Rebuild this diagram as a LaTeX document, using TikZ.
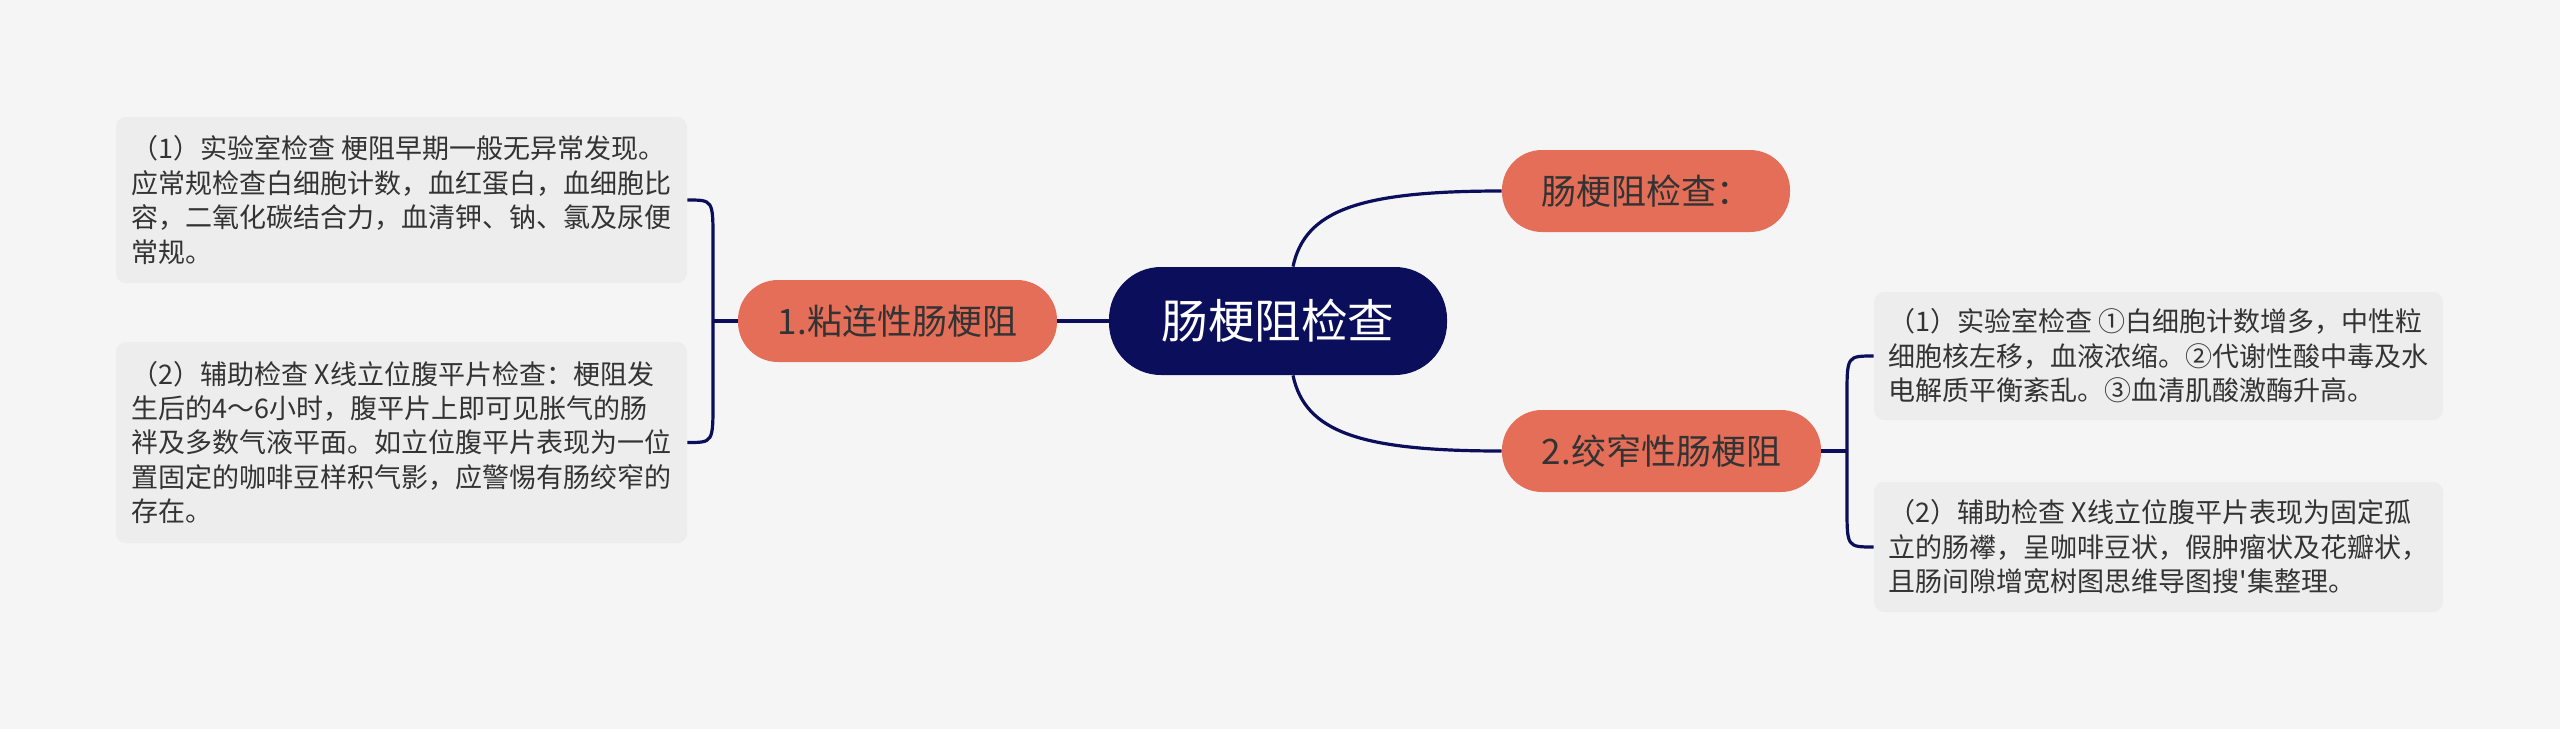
\documentclass[tikz,border=0pt]{standalone}
\usepackage{fontspec}
\setmainfont{Noto Sans CJK SC}[Ligatures=TeXOff]
\usetikzlibrary{calc}
\definecolor{bg}{HTML}{F5F5F5}
\definecolor{navy}{HTML}{0B0E5A}
\definecolor{salmon}{HTML}{E46E58}
\definecolor{boxfill}{HTML}{EDEDED}
\definecolor{txt}{HTML}{333333}
\begin{document}
\begin{tikzpicture}[x=0.5pt,y=-0.5pt,
 root/.style={fill=navy, text=white, rounded corners=26pt, minimum width=169pt, minimum height=54pt, font=\fontsize{23.3pt}{28pt}\selectfont, inner sep=0pt},
 topic/.style={fill=salmon, text=txt, rounded corners=20pt, minimum height=41pt, font=\fontsize{17.5pt}{21pt}\selectfont, inner sep=0pt},
 leaf/.style={fill=boxfill, text=txt, rounded corners=5pt, align=left, font=\fontsize{13.5pt}{17.25pt}\selectfont, inner sep=0pt},
 conn/.style={draw=navy, line width=1.6pt}]
\fill[bg] (0,0) rectangle (2560,729);
\useasboundingbox (0,0) rectangle (2560,729);

\node[root] (c) at (1278,321) {肠梗阻检查};
\node[topic, minimum width=144pt] (t) at (1646,191) {肠梗阻检查：};
\node[topic, minimum width=159.5pt] (n1) at (897.5,321) {1.粘连性肠梗阻};
\node[topic, minimum width=159.5pt] (n2) at (1661.5,451) {2.绞窄性肠梗阻};

\node[leaf, minimum width=285.5pt, minimum height=83pt] (b1) at (401.5,200) {（1）实验室检查 梗阻早期一般无异常发现。\\应常规检查白细胞计数，血红蛋白，血细胞比\\容，二氧化碳结合力，血清钾、钠、氯及尿便\\常规。};
\node[leaf, minimum width=285.5pt, minimum height=100.5pt] (b2) at (401.5,442.5) {（2）辅助检查 X线立位腹平片检查：梗阻发\\生后的4～6小时，腹平片上即可见胀气的肠\\袢及多数气液平面。如立位腹平片表现为一位\\置固定的咖啡豆样积气影，应警惕有肠绞窄的\\存在。};
\node[leaf, minimum width=284.5pt, minimum height=64pt] (b3) at (2158.5,356) {（1）实验室检查 ①白细胞计数增多，中性粒\\细胞核左移，血液浓缩。②代谢性酸中毒及水\\电解质平衡紊乱。③血清肌酸激酶升高。};
\node[leaf, minimum width=284.5pt, minimum height=65pt] (b4) at (2158.5,547) {（2）辅助检查 X线立位腹平片表现为固定孤\\立的肠襻，呈咖啡豆状，假肿瘤状及花瓣状，\\且肠间隙增宽树图思维导图搜'集整理。};

% central connectors
\draw[conn] ($(c.north)+(15,0)$) .. controls (1305,210) and (1360,191) .. (t.west);
\draw[conn] ($(c.south)+(15,0)$) .. controls (1305,432) and (1360,451) .. (n2.west);
\draw[conn] (c.west) -- (n1.east);

% left brace
\coordinate (bl) at (713,321);
\draw[conn] (n1.west) -- (bl);
\draw[conn] (bl) -- (713,240) .. controls (713,200) .. (b1.east);
\draw[conn] (bl) -- (713,402) .. controls (713,442.5) .. (b2.east);

% right brace
\coordinate (br) at (1847,451);
\draw[conn] (n2.east) -- (br);
\draw[conn] (br) -- (1847,396) .. controls (1847,356) .. (b3.west);
\draw[conn] (br) -- (1847,507) .. controls (1847,547) .. (b4.west);
\end{tikzpicture}
\end{document}
